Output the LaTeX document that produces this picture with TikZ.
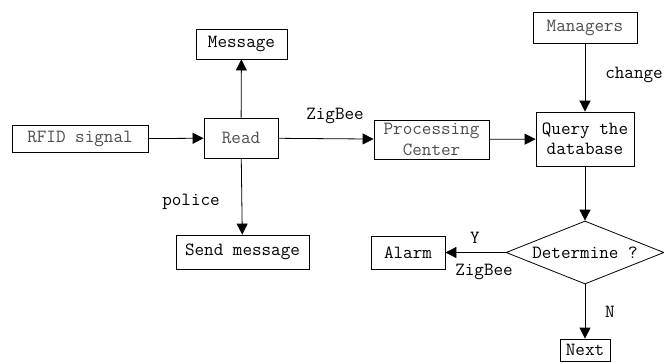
\documentclass[tikz,border=0pt]{standalone}
\usetikzlibrary{arrows.meta,shapes.geometric}
\begin{document}
\begin{tikzpicture}[
        x=1pt, y=-1pt,
        every node/.style={font=\ttfamily\fontsize{18.6}{20.5}\selectfont},
        box/.style={draw, line width=0.8pt, inner sep=0pt, align=center},
        light/.style={text=black!70},
        decide/.style={diamond, draw, line width=0.8pt, inner sep=0pt, aspect=2.5},
        lbl/.style={inner sep=0pt},
        flow/.style={line width=0.8pt, -{Triangle[length=11pt, width=11pt]}}
    ]
        \useasboundingbox (0,0) rectangle (664,362);

        % Các khối bên trái
        \node [box, light, minimum width=136pt, minimum height=27pt] (rfid) at (80,139) {RFID signal};
        \node [box, light, minimum width=74pt, minimum height=40pt] (read) at (241,138) {Read};
        \node [box, minimum width=91pt, minimum height=30pt] (msg) at (241.5,44) {Message};
        \node [box, minimum width=133pt, minimum height=34pt] (send) at (242.5,252) {Send message};

        % Trung tâm xử lý và cơ sở dữ liệu
        \node [box, light, minimum width=115pt, minimum height=39pt] (proc) at (431.5,139.5) {Processing\\Center};
        \node [box, minimum width=98pt, minimum height=54pt] (query) at (585,139) {Query the\\database};
        \node [box, light, minimum width=104pt, minimum height=31pt] (mgr) at (585,27.5) {Managers};

        % Phán đoán
        \node [decide, minimum width=158pt, minimum height=63pt] (det) at (585,252.5) {Determine ?};
        \node [box, minimum width=74pt, minimum height=33pt] (alarm) at (408,252.5) {Alarm};
        \node [box, minimum width=50pt, minimum height=22pt] (next) at (585,350) {Next};

        % Nhãn trên các mũi tên
        \node [lbl] (zigA) at (335,116) {ZigBee};
        \node [lbl] (chg) at (634,75) {change};
        \node [lbl] (pol) at (191,202) {police};
        \node [lbl] (yes) at (475,238) {Y};
        \node [lbl] (zigB) at (484,272) {ZigBee};
        \node [lbl] (no) at (610,312) {N};

        % Các mũi tên
        \draw[flow] (rfid) -- (read);
        \draw[flow] (read) -- (msg);
        \draw[flow] (read) -- (send);
        \draw[flow] (read) -- (proc);
        \draw[flow] (proc) -- (query);
        \draw[flow] (mgr) -- (query);
        \draw[flow] (query) -- (det);
        \draw[flow] (det.west) -- (alarm);
        \draw[flow] (det.south) -- (next);
    \end{tikzpicture}
\end{document}
